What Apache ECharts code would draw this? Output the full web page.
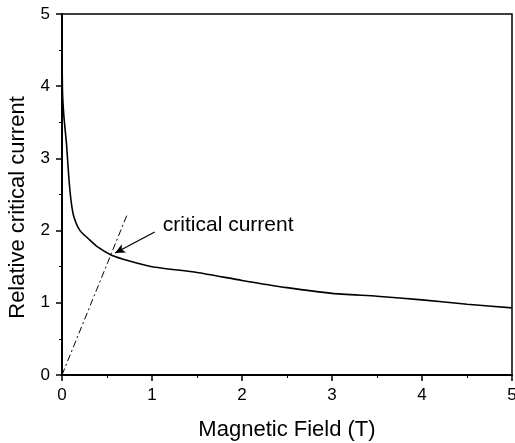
<!DOCTYPE html>
<html>
<head>
<meta charset="utf-8">
<script src="https://cdn.jsdelivr.net/npm/echarts@6/dist/echarts.min.js"></script>
<style>
  body { margin: 0; background: #fff; }
  #chart { width: 515px; height: 443px; }
</style>
</head>
<body>
<div id="chart"></div>
<script>
// field (T) and relative critical current
const field = [0, 0.005, 0.02, 0.05, 0.075, 0.1, 0.13, 0.2, 0.3, 0.4, 0.55, 0.75, 1, 1.5, 2, 2.5, 3, 3.5, 4, 4.5, 5];
const current = [4.6, 3.95, 3.6, 3.2, 2.75, 2.42, 2.2, 2.0, 1.88, 1.77, 1.66, 1.58, 1.5, 1.42, 1.31, 1.21, 1.13, 1.09, 1.04, 0.98, 0.93];
// dash-dot guide line
const guideX = [0, 0.73];
const guideY = [0, 2.24];
// annotation arrow (tail -> head) and label
const arrowFrom = [1.03, 1.98];
const arrowTo = [0.59, 1.69];
const noteText = 'critical current';
const notePos = [1.12, 2.08];

const font = 'Liberation Sans, Arial, sans-serif';
const chart = echarts.init(document.getElementById('chart'));

chart.setOption({
    animation: false,
    grid: {
        left: 62, right: 3, top: 14, bottom: 68,
        outerBoundsMode: 'none',
        show: true, borderColor: '#000', borderWidth: 1.5
    },
    xAxis: {
        type: 'value', min: 0, max: 5, interval: 1,
        name: 'Magnetic Field (T)', nameLocation: 'middle', nameGap: 44,
        nameTextStyle: { fontFamily: font, fontSize: 22, color: '#000' },
        axisLine: { lineStyle: { color: '#000', width: 2 } },
        axisTick: { length: 6, lineStyle: { color: '#000', width: 1.5 } },
        minorTick: { show: true, splitNumber: 2, length: 3, lineStyle: { color: '#000' } },
        axisLabel: { fontFamily: font, fontSize: 17, color: '#000', margin: 12 },
        splitLine: { show: false }
    },
    yAxis: {
        type: 'value', min: 0, max: 5, interval: 1,
        name: 'Relative critical current', nameLocation: 'middle', nameGap: 33,
        nameTextStyle: { fontFamily: font, fontSize: 22, color: '#000', padding: [0, 26, 0, 0] },
        axisLine: { show: true, lineStyle: { color: '#000', width: 2 } },
        axisTick: { show: true, length: 6, lineStyle: { color: '#000', width: 1.5 } },
        minorTick: { show: true, splitNumber: 2, length: 3, lineStyle: { color: '#000' } },
        axisLabel: { fontFamily: font, fontSize: 17, color: '#000', margin: 12 },
        splitLine: { show: false }
    },
    series: [
        {
            type: 'line',
            data: field.map((x, i) => [x, current[i]]),
            symbol: 'none',
            smooth: 0.2,
            lineStyle: { color: '#000', width: 1.6 },
            markLine: {
                silent: true,
                symbol: ['none', 'arrow'],
                symbolSize: [7, 10],
                label: { show: false },
                lineStyle: { color: '#000', width: 1.3, type: 'solid' },
                data: [[{ coord: arrowFrom }, { coord: arrowTo }]]
            },
            markPoint: {
                silent: true,
                symbol: 'circle',
                symbolSize: 0,
                label: {
                    show: true, position: 'right', distance: 0,
                    formatter: noteText,
                    fontFamily: font, fontSize: 21, color: '#000'
                },
                data: [{ coord: notePos }]
            }
        },
        {
            type: 'line',
            data: guideX.map((x, i) => [x, guideY[i]]),
            symbol: 'none',
            lineStyle: { color: '#000', width: 1, type: [7, 3, 2, 3] }
        }
    ]
});
</script>
</body>
</html>
